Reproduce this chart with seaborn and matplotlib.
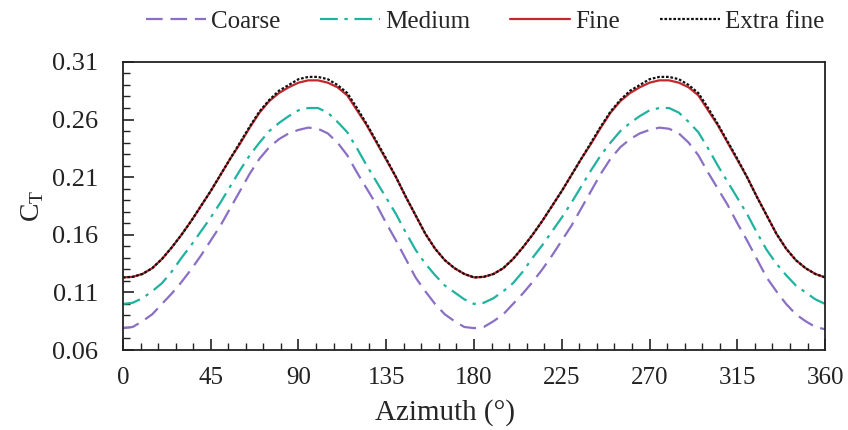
import numpy as np
import pandas as pd
import matplotlib
matplotlib.use('Agg')
import matplotlib.pyplot as plt
from matplotlib.ticker import MultipleLocator, FixedLocator
import seaborn as sns

# Data (azimuth in degrees, CT), 5 degree steps
azimuth = list(range(0, 361, 5))

coarse_half = [0.079, 0.080, 0.085, 0.091, 0.100, 0.109, 0.119, 0.130, 0.142, 0.155,
               0.168, 0.183, 0.198, 0.213, 0.226, 0.236, 0.243, 0.248, 0.251, 0.253,
               0.252, 0.248, 0.240, 0.229, 0.214, 0.200, 0.186, 0.170, 0.155, 0.139,
               0.123, 0.111, 0.100, 0.091, 0.085, 0.080]
medium_half = [0.100, 0.101, 0.105, 0.111, 0.118, 0.128, 0.140, 0.151, 0.163, 0.175,
               0.188, 0.202, 0.216, 0.229, 0.240, 0.250, 0.257, 0.263, 0.268, 0.270,
               0.270, 0.266, 0.258, 0.249, 0.235, 0.220, 0.206, 0.192, 0.178, 0.162,
               0.147, 0.135, 0.125, 0.116, 0.110, 0.104]
fine_half = [0.123, 0.1235, 0.126, 0.131, 0.139, 0.149, 0.160, 0.172, 0.185, 0.198,
             0.212, 0.226, 0.239, 0.253, 0.266, 0.276, 0.283, 0.288, 0.292, 0.294,
             0.294, 0.292, 0.288, 0.281, 0.268, 0.255, 0.240, 0.225, 0.210, 0.193,
             0.177, 0.161, 0.148, 0.138, 0.131, 0.126]
xfine_half = [0.123, 0.1235, 0.126, 0.131, 0.139, 0.149, 0.160, 0.172, 0.185, 0.198,
              0.212, 0.226, 0.240, 0.254, 0.267, 0.277, 0.285, 0.290, 0.295, 0.297,
              0.297, 0.295, 0.290, 0.283, 0.270, 0.256, 0.241, 0.226, 0.210, 0.193,
              0.177, 0.161, 0.148, 0.138, 0.131, 0.126]

# second revolution repeats the first
coarse = coarse_half + coarse_half + [0.078]
medium = medium_half + medium_half + [0.100]
fine = fine_half + fine_half + [0.123]
xfine = xfine_half + xfine_half + [0.123]

series = ['Coarse', 'Medium', 'Fine', 'Extra fine']
values = [coarse, medium, fine, xfine]
colors = ['#8a6fc4', '#1fb3a0', '#c0282d', '#111111']
styles = [(0, (7.5, 3.5)), (0, (8, 3, 1.5, 3)), '-', (0, (1.2, 0.8))]

y_ticks = [0.06, 0.11, 0.16, 0.21, 0.26, 0.31]

df = pd.DataFrame({'azimuth': azimuth * 4,
                   'ct': sum(values, []),
                   'mesh': sum([[s] * len(azimuth) for s in series], [])})

sns.set_style('white')
plt.rcParams['font.family'] = ['Liberation Serif', 'DejaVu Serif']
plt.rcParams['mathtext.fontset'] = 'custom'
plt.rcParams['mathtext.rm'] = 'Liberation Serif'

fig = plt.figure(figsize=(8.48, 4.30), dpi=100)
ax = fig.add_axes([0.145, 0.186, 0.828, 0.670])

for s, c, ls in zip(series, colors, styles):
    sns.lineplot(data=df[df['mesh'] == s], x='azimuth', y='ct', ax=ax,
                 color=c, linestyle=ls, linewidth=1.6, label=s)

ax.set_xlim(0, 360)
ax.set_ylim(0.06, 0.31)
ax.xaxis.set_major_locator(MultipleLocator(45))
ax.xaxis.set_minor_locator(MultipleLocator(9))
ax.yaxis.set_major_locator(FixedLocator(y_ticks))
ax.yaxis.set_minor_locator(MultipleLocator(0.01))
ax.yaxis.set_major_formatter(plt.FormatStrFormatter('%.2f'))
ax.tick_params(which='both', direction='in', top=False, right=False,
               bottom=True, left=True, colors='#222222')
ax.tick_params(axis='y', which='major', labelsize=19, pad=18)
ax.tick_params(axis='x', which='major', labelsize=18, pad=12)
ax.tick_params(which='major', length=8, width=1.2)
ax.tick_params(which='minor', length=5, width=1.0)
for sp in ax.spines.values():
    sp.set_color('#222222')
    sp.set_linewidth(1.3)

ax.set_xlabel('Azimuth (°)', fontsize=21)
ax.xaxis.set_label_coords(0.459, -0.17)
ax.set_ylabel(r'C$_\mathregular{T}$', fontsize=20)
ax.yaxis.set_label_coords(-0.11, 0.5)

ax.legend(loc='center', bbox_to_anchor=(0.572, 0.95), bbox_transform=fig.transFigure,
          ncol=4, frameon=False, fontsize=18, handlelength=2.4, columnspacing=1.6,
          handletextpad=0.2)

plt.savefig('out.png', dpi=100)
plt.close()
